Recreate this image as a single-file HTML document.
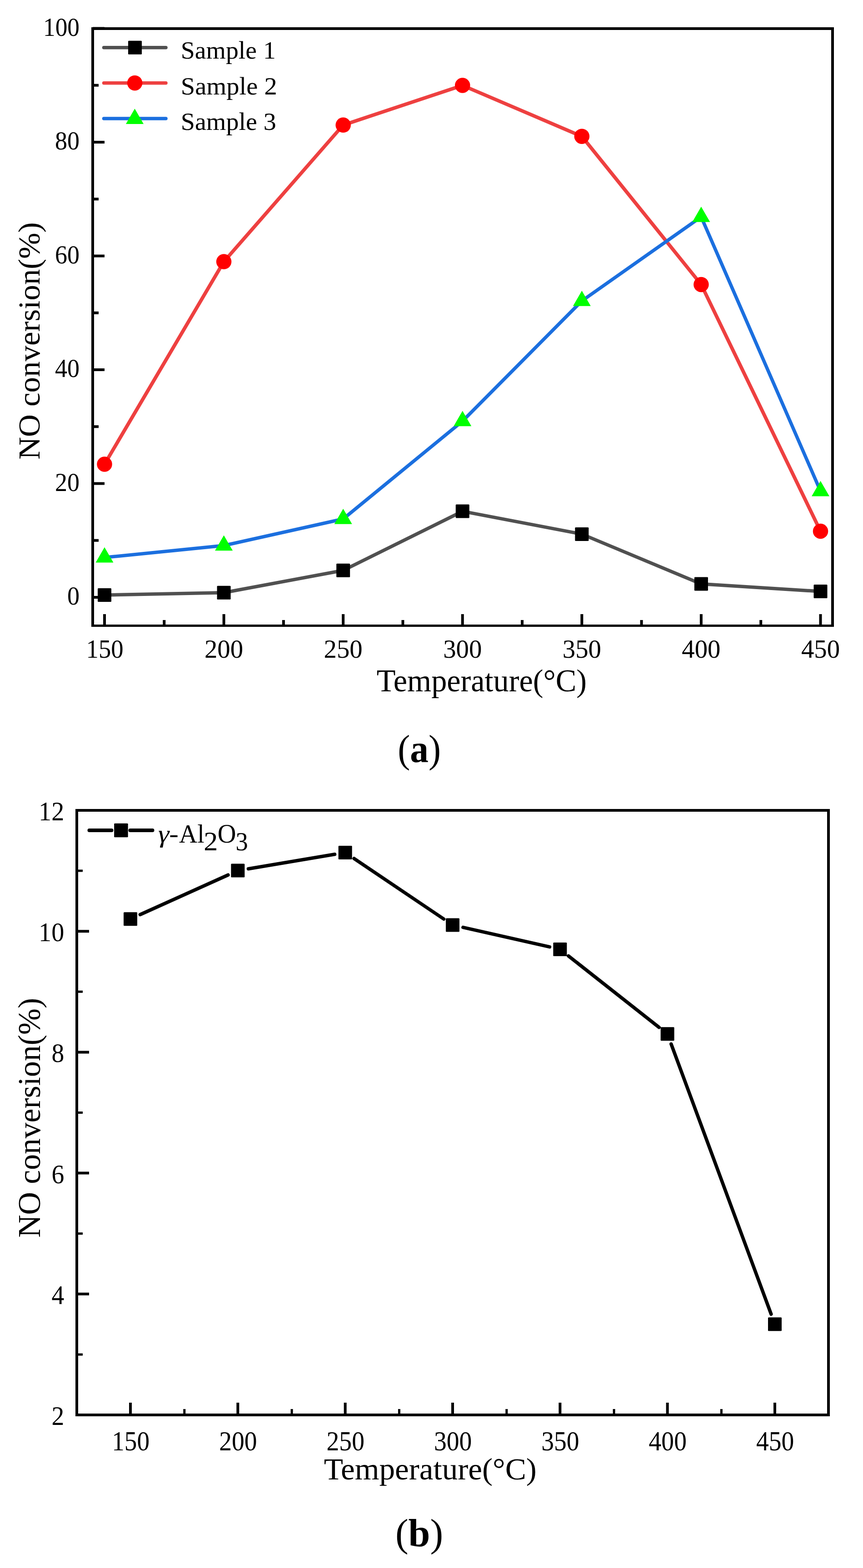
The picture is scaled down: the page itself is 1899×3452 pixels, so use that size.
<!DOCTYPE html>
<html><head><meta charset="utf-8"><title>NO conversion vs Temperature</title>
<style>html,body{margin:0;padding:0;background:#fff;}svg{display:block;}</style>
</head><body>
<svg width="1899" height="3452" viewBox="0 0 1899 3452">
<rect x="0" y="0" width="1899" height="3452" fill="#fff"/>
<path d="M204,1315.00H230M204,1064.50H230M204,814.00H230M204,563.50H230M204,313.00H230M204,62.50H230M204,1189.75H217M204,939.25H217M204,688.75H217M204,438.25H217M204,187.75H217M230.00,1377.5V1352.0M492.58,1377.5V1352.0M755.17,1377.5V1352.0M1017.75,1377.5V1352.0M1280.34,1377.5V1352.0M1542.92,1377.5V1352.0M1805.51,1377.5V1352.0M361.29,1377.5V1365.0M623.88,1377.5V1365.0M886.46,1377.5V1365.0M1149.05,1377.5V1365.0M1411.63,1377.5V1365.0M1674.22,1377.5V1365.0" stroke="#000" stroke-width="6" fill="none"/>
<polyline points="230.00,1310.00 492.58,1304.70 755.17,1255.80 1017.75,1125.60 1280.34,1175.90 1542.92,1285.60 1805.51,1302.00" fill="none" stroke="#505050" stroke-width="7.5" stroke-linejoin="round" stroke-linecap="round"/>
<polyline points="230.00,1022.00 492.58,576.10 755.17,275.30 1017.75,188.00 1280.34,300.20 1542.92,626.40 1805.51,1169.50" fill="none" stroke="#ee4040" stroke-width="7.8" stroke-linejoin="round" stroke-linecap="round"/>
<polyline points="230.00,1227.30 492.58,1201.00 755.17,1142.50 1017.75,927.10 1280.34,662.50 1542.92,477.40 1805.51,1081.20" fill="none" stroke="#1b6fdf" stroke-width="7.5" stroke-linejoin="round" stroke-linecap="round"/>
<rect x="215.00" y="1295.00" width="30" height="30" rx="1.5" fill="#000"/>
<rect x="477.58" y="1289.70" width="30" height="30" rx="1.5" fill="#000"/>
<rect x="740.17" y="1240.80" width="30" height="30" rx="1.5" fill="#000"/>
<rect x="1002.75" y="1110.60" width="30" height="30" rx="1.5" fill="#000"/>
<rect x="1265.34" y="1160.90" width="30" height="30" rx="1.5" fill="#000"/>
<rect x="1527.92" y="1270.60" width="30" height="30" rx="1.5" fill="#000"/>
<rect x="1790.51" y="1287.00" width="30" height="30" rx="1.5" fill="#000"/>
<circle cx="230.00" cy="1022.00" r="16.75" fill="#ff0000"/>
<circle cx="492.58" cy="576.10" r="16.75" fill="#ff0000"/>
<circle cx="755.17" cy="275.30" r="16.75" fill="#ff0000"/>
<circle cx="1017.75" cy="188.00" r="16.75" fill="#ff0000"/>
<circle cx="1280.34" cy="300.20" r="16.75" fill="#ff0000"/>
<circle cx="1542.92" cy="626.40" r="16.75" fill="#ff0000"/>
<circle cx="1805.51" cy="1169.50" r="16.75" fill="#ff0000"/>
<path d="M230.00,1204.78L249.50,1238.56L210.50,1238.56Z" fill="#00ff00"/>
<path d="M492.58,1178.48L512.09,1212.26L473.08,1212.26Z" fill="#00ff00"/>
<path d="M755.17,1119.98L774.67,1153.76L735.67,1153.76Z" fill="#00ff00"/>
<path d="M1017.75,904.58L1037.25,938.36L998.25,938.36Z" fill="#00ff00"/>
<path d="M1280.34,639.98L1299.84,673.76L1260.84,673.76Z" fill="#00ff00"/>
<path d="M1542.92,454.88L1562.42,488.66L1523.42,488.66Z" fill="#00ff00"/>
<path d="M1805.51,1058.68L1825.01,1092.46L1786.01,1092.46Z" fill="#00ff00"/>
<path d="M204,60V1380.0M1832,60V1380.0M201,63H1835" stroke="#000" stroke-width="6" fill="none"/>
<path d="M201,1377.5H1835" stroke="#000" stroke-width="5.2" fill="none"/>
<line x1="228.5" y1="104.8" x2="365" y2="104.8" stroke="#505050" stroke-width="7.5" stroke-linecap="round"/>
<rect x="282.00" y="89.80" width="30" height="30" rx="1.5" fill="#000"/>
<line x1="228.5" y1="182.7" x2="365" y2="182.7" stroke="#ee4040" stroke-width="7.5" stroke-linecap="round"/>
<circle cx="296.60" cy="182.70" r="16.75" fill="#ff0000"/>
<line x1="228.5" y1="261" x2="365" y2="261" stroke="#1b6fdf" stroke-width="7.5" stroke-linecap="round"/>
<path d="M296.50,239.18L316.00,272.96L277.00,272.96Z" fill="#00ff00"/>
<path d="M169,3115.00H196M169,2848.80H196M169,2582.60H196M169,2316.40H196M169,2050.20H196M169,1784.00H196M287.00,3115V3088M523.34,3115V3088M759.67,3115V3088M996.00,3115V3088M1232.34,3115V3088M1468.67,3115V3088M1705.01,3115V3088" stroke="#000" stroke-width="6" fill="none"/>
<path d="M169,2981.90H182M169,2715.70H182M169,2449.50H182M169,2183.30H182M169,1917.10H182M405.77,3115V3102M642.10,3115V3102M878.44,3115V3102M1114.77,3115V3102M1351.11,3115V3102M1587.44,3115V3102" stroke="#000" stroke-width="5" fill="none"/>
<path d="M308.42,2013.54L501.91,1926.26M546.51,1912.71L736.49,1880.79M779.15,1890.05L976.53,2023.25M1018.93,2041.59L1209.42,2084.71M1250.79,2104.45L1450.22,2261.75M1476.83,2298.34L1696.86,2893.16" stroke="#000" stroke-width="7.5" stroke-linecap="round" fill="none"/>
<rect x="272.00" y="2008.20" width="30" height="30" rx="1.5" fill="#000"/>
<rect x="508.34" y="1901.60" width="30" height="30" rx="1.5" fill="#000"/>
<rect x="744.67" y="1861.90" width="30" height="30" rx="1.5" fill="#000"/>
<rect x="981.00" y="2021.40" width="30" height="30" rx="1.5" fill="#000"/>
<rect x="1217.34" y="2074.90" width="30" height="30" rx="1.5" fill="#000"/>
<rect x="1453.67" y="2261.30" width="30" height="30" rx="1.5" fill="#000"/>
<rect x="1690.01" y="2900.20" width="30" height="30" rx="1.5" fill="#000"/>
<rect x="169" y="1784" width="1654" height="1331" fill="none" stroke="#000" stroke-width="6"/>
<path d="M196.5,1828H245.5M286.5,1828H335.5" stroke="#000" stroke-width="8" stroke-linecap="round"/>
<rect x="251.15" y="1812.85" width="30.5" height="30.5" rx="1.5" fill="#000"/>
<text id="A_S1" font-family="'Liberation Serif','Times New Roman',serif" font-size="55.56" textLength="208.86" lengthAdjust="spacingAndGlyphs" x="397.89" y="128.70">Sample 1</text>
<text id="A_S2" font-family="'Liberation Serif','Times New Roman',serif" font-size="55.79" textLength="211.99" lengthAdjust="spacingAndGlyphs" x="397.83" y="207.86">Sample 2</text>
<text id="A_S3" font-family="'Liberation Serif','Times New Roman',serif" font-size="55.79" textLength="209.92" lengthAdjust="spacingAndGlyphs" x="397.87" y="285.51">Sample 3</text>
<text id="A_y0" font-family="'Liberation Serif','Times New Roman',serif" font-size="57.30" text-anchor="end" textLength="27.10" lengthAdjust="spacingAndGlyphs" x="175.00" y="1331.20">0</text>
<text id="A_y20" font-family="'Liberation Serif','Times New Roman',serif" font-size="57.30" text-anchor="end" textLength="54.00" lengthAdjust="spacingAndGlyphs" x="175.00" y="1080.70">20</text>
<text id="A_y40" font-family="'Liberation Serif','Times New Roman',serif" font-size="57.30" text-anchor="end" textLength="54.00" lengthAdjust="spacingAndGlyphs" x="175.00" y="830.20">40</text>
<text id="A_y60" font-family="'Liberation Serif','Times New Roman',serif" font-size="57.30" text-anchor="end" textLength="54.00" lengthAdjust="spacingAndGlyphs" x="175.00" y="579.70">60</text>
<text id="A_y80" font-family="'Liberation Serif','Times New Roman',serif" font-size="57.30" text-anchor="end" textLength="54.00" lengthAdjust="spacingAndGlyphs" x="175.00" y="329.20">80</text>
<text id="A_y100" font-family="'Liberation Serif','Times New Roman',serif" font-size="57.30" text-anchor="end" textLength="80.00" lengthAdjust="spacingAndGlyphs" x="175.00" y="78.70">100</text>
<text id="A_x150" font-family="'Liberation Serif','Times New Roman',serif" font-size="57.30" text-anchor="middle" textLength="82.10" lengthAdjust="spacingAndGlyphs" x="230.60" y="1448.40">150</text>
<text id="A_x200" font-family="'Liberation Serif','Times New Roman',serif" font-size="57.30" text-anchor="middle" textLength="85.20" lengthAdjust="spacingAndGlyphs" x="492.58" y="1448.40">200</text>
<text id="A_x250" font-family="'Liberation Serif','Times New Roman',serif" font-size="57.30" text-anchor="middle" textLength="85.20" lengthAdjust="spacingAndGlyphs" x="755.17" y="1448.40">250</text>
<text id="A_x300" font-family="'Liberation Serif','Times New Roman',serif" font-size="57.30" text-anchor="middle" textLength="85.20" lengthAdjust="spacingAndGlyphs" x="1017.75" y="1448.40">300</text>
<text id="A_x350" font-family="'Liberation Serif','Times New Roman',serif" font-size="57.30" text-anchor="middle" textLength="85.20" lengthAdjust="spacingAndGlyphs" x="1280.34" y="1448.40">350</text>
<text id="A_x400" font-family="'Liberation Serif','Times New Roman',serif" font-size="57.30" text-anchor="middle" textLength="85.20" lengthAdjust="spacingAndGlyphs" x="1542.92" y="1448.40">400</text>
<text id="A_x450" font-family="'Liberation Serif','Times New Roman',serif" font-size="57.30" text-anchor="middle" textLength="85.20" lengthAdjust="spacingAndGlyphs" x="1805.51" y="1448.40">450</text>
<text id="A_xt" font-family="'Liberation Serif','Times New Roman',serif" font-size="68.74" textLength="462.12" lengthAdjust="spacingAndGlyphs" x="828.86" y="1521.93">Temperature(°C)</text>
<text id="A_yt" font-family="'Liberation Serif','Times New Roman',serif" font-size="68.00" textLength="522.49" lengthAdjust="spacingAndGlyphs" transform="translate(86.90,1011.83) rotate(-90)">NO conversion(%)</text>
<text id="A_cap" font-family="'Liberation Serif','Times New Roman',serif" font-size="86.25" textLength="94.80" lengthAdjust="spacingAndGlyphs" x="875.22" y="1677.97">(<tspan font-weight="bold">a</tspan>)</text>
<text id="B_lg1" font-family="'Liberation Serif','Times New Roman',serif" font-size="55.40" textLength="44.95" lengthAdjust="spacingAndGlyphs" x="348.02" y="1854.36"><tspan font-style="italic">γ</tspan>-</text>
<text id="B_lg2" font-family="'Liberation Serif','Times New Roman',serif" font-size="57.78" textLength="55.65" lengthAdjust="spacingAndGlyphs" x="394.02" y="1854.61">Al</text>
<text id="B_lg3" font-family="'Liberation Serif','Times New Roman',serif" font-size="59.12" textLength="31.14" lengthAdjust="spacingAndGlyphs" x="448.39" y="1871.89">2</text>
<text id="B_lg4" font-family="'Liberation Serif','Times New Roman',serif" font-size="59.40" textLength="40.73" lengthAdjust="spacingAndGlyphs" x="478.72" y="1855.30">O</text>
<text id="B_lg5" font-family="'Liberation Serif','Times New Roman',serif" font-size="58.05" textLength="27.26" lengthAdjust="spacingAndGlyphs" x="518.43" y="1872.19">3</text>
<text id="B_y2" font-family="'Liberation Serif','Times New Roman',serif" font-size="58.80" text-anchor="end" textLength="27.80" lengthAdjust="spacingAndGlyphs" x="141.20" y="3136.90">2</text>
<text id="B_y4" font-family="'Liberation Serif','Times New Roman',serif" font-size="58.80" text-anchor="end" textLength="27.80" lengthAdjust="spacingAndGlyphs" x="141.20" y="2870.70">4</text>
<text id="B_y6" font-family="'Liberation Serif','Times New Roman',serif" font-size="58.80" text-anchor="end" textLength="27.80" lengthAdjust="spacingAndGlyphs" x="141.20" y="2604.50">6</text>
<text id="B_y8" font-family="'Liberation Serif','Times New Roman',serif" font-size="58.80" text-anchor="end" textLength="27.80" lengthAdjust="spacingAndGlyphs" x="141.20" y="2338.30">8</text>
<text id="B_y10" font-family="'Liberation Serif','Times New Roman',serif" font-size="58.80" text-anchor="end" textLength="56.10" lengthAdjust="spacingAndGlyphs" x="141.20" y="2072.10">10</text>
<text id="B_y12" font-family="'Liberation Serif','Times New Roman',serif" font-size="58.80" text-anchor="end" textLength="56.10" lengthAdjust="spacingAndGlyphs" x="141.20" y="1805.90">12</text>
<text id="B_x150" font-family="'Liberation Serif','Times New Roman',serif" font-size="60.30" text-anchor="middle" textLength="82.90" lengthAdjust="spacingAndGlyphs" x="287.60" y="3192.50">150</text>
<text id="B_x200" font-family="'Liberation Serif','Times New Roman',serif" font-size="60.30" text-anchor="middle" textLength="83.40" lengthAdjust="spacingAndGlyphs" x="523.94" y="3192.50">200</text>
<text id="B_x250" font-family="'Liberation Serif','Times New Roman',serif" font-size="60.30" text-anchor="middle" textLength="83.40" lengthAdjust="spacingAndGlyphs" x="760.27" y="3192.50">250</text>
<text id="B_x300" font-family="'Liberation Serif','Times New Roman',serif" font-size="60.30" text-anchor="middle" textLength="83.40" lengthAdjust="spacingAndGlyphs" x="996.61" y="3192.50">300</text>
<text id="B_x350" font-family="'Liberation Serif','Times New Roman',serif" font-size="60.30" text-anchor="middle" textLength="83.40" lengthAdjust="spacingAndGlyphs" x="1232.94" y="3192.50">350</text>
<text id="B_x400" font-family="'Liberation Serif','Times New Roman',serif" font-size="60.30" text-anchor="middle" textLength="83.40" lengthAdjust="spacingAndGlyphs" x="1469.27" y="3192.50">400</text>
<text id="B_x450" font-family="'Liberation Serif','Times New Roman',serif" font-size="60.30" text-anchor="middle" textLength="83.40" lengthAdjust="spacingAndGlyphs" x="1705.61" y="3192.50">450</text>
<text id="B_xt" font-family="'Liberation Serif','Times New Roman',serif" font-size="68.61" textLength="468.19" lengthAdjust="spacingAndGlyphs" x="712.66" y="3257.31">Temperature(°C)</text>
<text id="B_yt" font-family="'Liberation Serif','Times New Roman',serif" font-size="70.08" textLength="527.84" lengthAdjust="spacingAndGlyphs" transform="translate(88.02,2724.72) rotate(-90)">NO conversion(%)</text>
<text id="B_cap" font-family="'Liberation Serif','Times New Roman',serif" font-size="86.93" textLength="105.24" lengthAdjust="spacingAndGlyphs" x="869.89" y="3404.14">(<tspan font-weight="bold">b</tspan>)</text>
</svg>
</body></html>
